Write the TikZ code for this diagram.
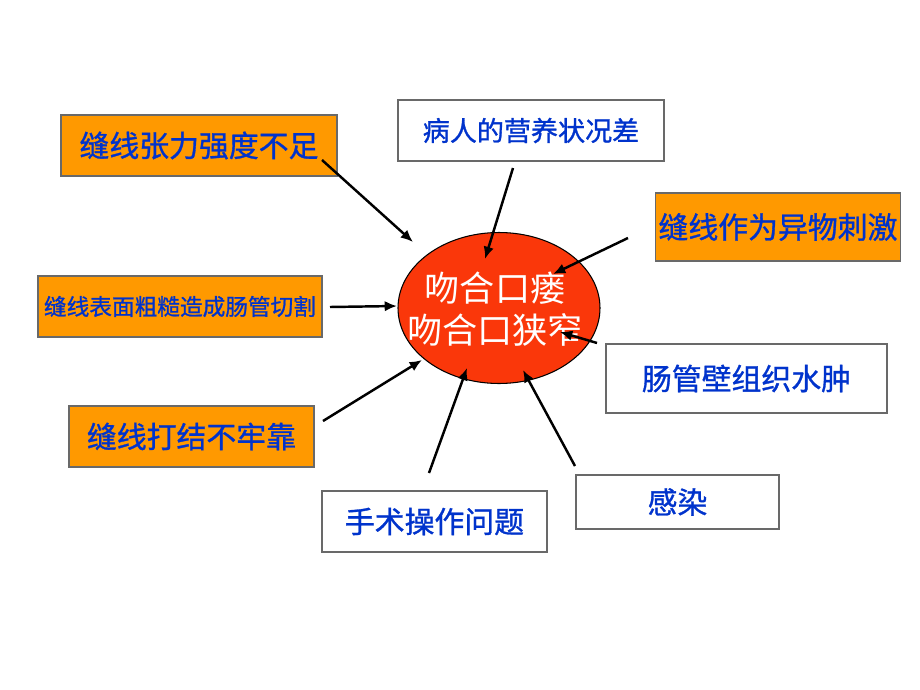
\documentclass[tikz,border=0pt]{standalone}
\usepackage{fontspec}
\newfontfamily\cjk{Noto Sans CJK SC}
\newfontfamily\cjkthick[FakeBold=1]{Noto Sans CJK SC}
\usetikzlibrary{shapes.geometric,arrows.meta}
\definecolor{boxorange}{RGB}{255,153,0}
\definecolor{holered}{RGB}{250,55,10}
\definecolor{textblue}{RGB}{0,51,204}
\definecolor{boxgray}{RGB}{105,105,105}
\newlength\pix
\setlength\pix{0.02cm}
\begin{document}
\begin{tikzpicture}[x=0.02cm,y=-0.02cm,
	cause/.style={draw=boxgray,line width=0.6pt,inner sep=0pt,text=textblue,font=\cjkthick\fontsize{17}{20}\selectfont},
	hot/.style={cause,fill=boxorange},
	cold/.style={cause,fill=white},
	arr/.style={-{Latex[length=7pt,width=6pt]},line width=1.4pt}]
	\useasboundingbox (0,0) rectangle (920,690);

	\node[ellipse,draw,line width=0.6pt,fill=holered,minimum width=202\pix,minimum height=151\pix,inner sep=0pt] (hole) at (499,308) {};
	\node[text=white,align=center,inner sep=0pt,font=\cjk\fontsize{20}{24}\selectfont] (holetext) at (495,309) {吻合口瘘\\吻合口狭窄};

	\node[hot,minimum width=276\pix,minimum height=61\pix] (tension) at (199,145.5) {缝线张力强度不足};
	\node[cold,minimum width=266\pix,minimum height=61\pix,font=\cjkthick\fontsize{15.4}{18}\selectfont] (nutrition) at (531,130.5) {病人的营养状况差};
	\node[hot,minimum width=245\pix,minimum height=68\pix] (foreign) at (778,227) {缝线作为异物刺激};
	\node[hot,minimum width=284\pix,minimum height=61\pix,font=\cjkthick\fontsize{12.9}{15}\selectfont] (rough) at (180,306.5) {缝线表面粗糙造成肠管切割};
	\node[cold,minimum width=281\pix,minimum height=69\pix] (edema) at (746.5,378.5) {肠管壁组织水肿};
	\node[hot,minimum width=245\pix,minimum height=61\pix] (knot) at (191.5,436.5) {缝线打结不牢靠};
	\node[cold,minimum width=225\pix,minimum height=61\pix] (surgery) at (434.5,521.5) {手术操作问题};
	\node[cold,minimum width=203\pix,minimum height=54\pix] (infection) at (677.5,502) {感染};

	\coordinate (s1) at (322,160);
	\coordinate (s2) at (513,168);
	\coordinate (s3) at (628,238);
	\coordinate (s4) at (330,307);
	\coordinate (s5) at (323,421);
	\coordinate (s6) at (597,343);
	\coordinate (s7) at (429,473);
	\coordinate (s8) at (575,466);

	\draw[arr] (s1) -- ([shift={(-86,-66)}]hole.center);
	\draw[arr] (s2) -- ([shift={(-14,-49)}]hole.center);
	\draw[arr] (s3) -- ([shift={(54,-34)}]hole.center);
	\draw[arr] (s4) -- ([shift={(-102,-2)}]hole.center);
	\draw[arr] (s5) -- ([shift={(-77,52)}]hole.center);
	\draw[arr] (s6) -- ([shift={(61,24)}]hole.center);
	\draw[arr] (s7) -- ([shift={(-32,60)}]hole.center);
	\draw[arr] (s8) -- ([shift={(24,62)}]hole.center);
\end{tikzpicture}
\end{document}
